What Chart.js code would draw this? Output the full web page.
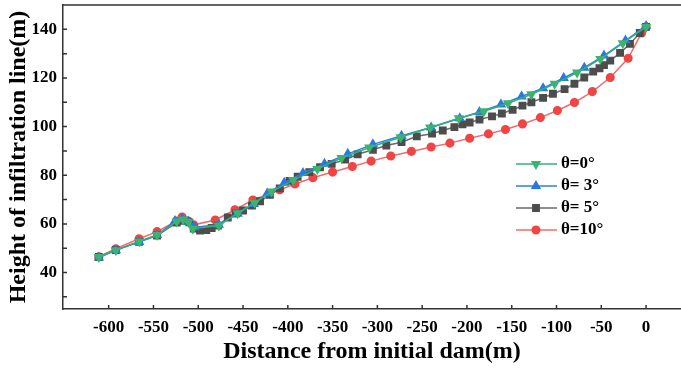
<!DOCTYPE html>
<html>
<head>
<meta charset="utf-8">
<script src="https://cdn.jsdelivr.net/npm/chart.js@4"></script>
<style>
  html, body { margin: 0; padding: 0; background: #fff; }
</style>
</head>
<body>
<canvas id="chart" width="681" height="369"></canvas>
<script>
// θ=0°
var x0 = [-611, -592, -566, -546, -524, -517, -511, -506, -477, -456, -437, -418, -394, -367, -340, -309, -274, -241, -209, -181, -154, -128, -102, -77, -51, -26, 0];
var y0 = [46.4, 49.2, 52.8, 55.4, 61.0, 61.8, 60.8, 58.0, 59.3, 64.4, 68.7, 73.3, 78.0, 82.6, 87.1, 91.4, 95.6, 99.6, 103.4, 106.3, 109.6, 113.3, 117.6, 122.2, 127.8, 134.3, 141.0];
// θ=3°
var x3 = [-611, -592, -566, -546, -526, -518, -511, -504, -477, -456, -438, -423, -404, -383, -359, -333, -305, -273, -240, -208, -186, -162, -139, -115, -92, -69, -47, -23, 0];
var y3 = [46.2, 49.2, 52.6, 55.4, 61.2, 62.2, 60.9, 58.6, 59.6, 64.2, 68.2, 72.5, 76.9, 80.9, 84.7, 88.8, 92.7, 96.2, 99.6, 103.4, 106.0, 109.1, 112.4, 115.8, 120.0, 124.2, 129.2, 135.4, 141.4];
// θ=5°
var x5 = [-611, -592, -566, -546, -524, -516, -510, -505, -498, -491, -485, -478, -467, -458, -450, -440, -431, -420, -409, -398, -389, -376, -364, -351, -336, -322, -305, -290, -273, -256, -239, -227, -214, -205, -197, -186, -172, -161, -149, -138, -128, -115, -104, -91, -80, -69, -59, -52, -47, -40, -29, -18, -7, 0];
var y5 = [46.4, 49.2, 52.6, 55.2, 60.5, 61.3, 60.6, 58.1, 57.3, 57.5, 58.3, 59.3, 62.6, 64.2, 65.5, 67.5, 69.3, 71.9, 74.6, 77.7, 79.4, 81.3, 83.3, 84.7, 86.4, 88.6, 90.5, 92.2, 93.6, 96.0, 97.1, 98.4, 99.8, 100.9, 101.7, 102.9, 104.2, 105.4, 106.9, 108.6, 110.0, 111.8, 113.5, 115.4, 117.6, 120.2, 122.6, 124.0, 125.3, 127.1, 130.3, 134.0, 138.5, 141.0];
// θ=10°
var x10 = [-611, -592, -566, -546, -524, -518, -511, -505, -481, -459, -439, -409, -392, -372, -350, -328, -307, -285, -262, -240, -219, -197, -176, -157, -138, -118, -99, -80, -60, -40, -20, -5, 0];
var y10 = [46.5, 49.8, 53.9, 56.8, 61.2, 62.8, 61.2, 59.6, 61.6, 65.8, 69.8, 74.0, 76.4, 79.0, 81.3, 83.6, 85.8, 87.9, 89.8, 91.6, 93.2, 95.2, 97.0, 98.8, 101.1, 103.7, 106.6, 109.9, 114.4, 120.2, 128.1, 138.5, 141.0];

var seriesNames = ['θ=0°', 'θ= 3°', 'θ= 5°', 'θ=10°'];
var xTicks = [-600, -550, -500, -450, -400, -350, -300, -250, -200, -150, -100, -50, 0];
var yTicks = [30, 40, 50, 60, 70, 80, 90, 100, 110, 120, 130, 140];
var yLabels = [40, 60, 80, 100, 120, 140];

var serif = "'Liberation Serif', 'Times New Roman', serif";

function pts(xs, ys) {
    return xs.map(function(x, i) { return {x: x, y: ys[i]}; });
}

// inward tick marks, top frame line and the legend
var framePlugin = {
    id: 'frame',
    afterDatasetsDraw: function(chart) {
        var ctx = chart.ctx, a = chart.chartArea;
        var xs = chart.scales.x, ys = chart.scales.y;
        ctx.save();
        ctx.strokeStyle = '#333';
        ctx.lineWidth = 1.5;
        ctx.beginPath();
        ctx.moveTo(a.left, a.top);
        ctx.lineTo(a.right, a.top);
        xTicks.forEach(function(v) {
            var p = xs.getPixelForValue(v);
            ctx.moveTo(p, a.bottom);
            ctx.lineTo(p, a.bottom - 4);
        });
        yTicks.forEach(function(v) {
            var p = ys.getPixelForValue(v);
            ctx.moveTo(a.left, p);
            ctx.lineTo(a.left + 4, p);
        });
        ctx.stroke();

        // legend
        var lx = 516, ly = 164, gap = 22;
        chart.data.datasets.forEach(function(ds, i) {
            var y = ly + i * gap;
            ctx.strokeStyle = ds.borderColor;
            ctx.lineWidth = 1.5;
            ctx.beginPath();
            ctx.moveTo(lx, y);
            ctx.lineTo(lx + 41, y);
            ctx.stroke();
            ctx.fillStyle = ds.pointBackgroundColor;
            ctx.strokeStyle = ds.pointBorderColor;
            Chart.helpers.drawPoint(ctx, {
                pointStyle: ds.pointStyle,
                rotation: ds.pointRotation || 0,
                radius: ds.pointRadius,
                borderWidth: 1
            }, lx + 20, y);
            ctx.fillStyle = '#000';
            ctx.font = 'bold 17px ' + serif;
            ctx.textBaseline = 'middle';
            ctx.fillText(seriesNames[i], lx + 45, y);
        });
        ctx.restore();
    }
};

var chart = new Chart(document.getElementById('chart'), {
    type: 'line',
    data: {
        datasets: [{
            label: seriesNames[0],
            data: pts(x0, y0),
            borderColor: '#33b07a',
            pointBackgroundColor: '#3cb371',
            pointBorderColor: '#3cb371',
            pointStyle: 'triangle',
            pointRotation: 180,
            pointRadius: 4.5,
            borderWidth: 1.5
        }, {
            label: seriesNames[1],
            data: pts(x3, y3),
            borderColor: '#2f7fe0',
            pointBackgroundColor: '#2a78e0',
            pointBorderColor: '#2a78e0',
            pointStyle: 'triangle',
            pointRadius: 4.5,
            borderWidth: 1.5
        }, {
            label: seriesNames[2],
            data: pts(x5, y5),
            borderColor: '#6a6a6a',
            pointBackgroundColor: '#4d4d4d',
            pointBorderColor: '#4d4d4d',
            pointStyle: 'rect',
            pointRadius: 4.5,
            borderWidth: 1.5
        }, {
            label: seriesNames[3],
            data: pts(x10, y10),
            borderColor: '#f46a6a',
            pointBackgroundColor: '#f04545',
            pointBorderColor: '#f04545',
            pointStyle: 'circle',
            pointRadius: 3.8,
            borderWidth: 1.5
        }]
    },
    options: {
        responsive: false,
        animation: false,
        devicePixelRatio: 1,
        layout: { autoPadding: false, padding: { top: 5, right: 0, left: 0, bottom: 0 } },
        plugins: {
            legend: { display: false },
            tooltip: { enabled: false }
        },
        scales: {
            x: {
                type: 'linear',
                min: -651,
                max: 39,
                afterBuildTicks: function(scale) {
                    scale.ticks = xTicks.map(function(v) { return {value: v}; });
                },
                afterFit: function(scale) {
                    scale.height = 60;
                    scale.paddingLeft = 0;
                    scale.paddingRight = 0;
                },
                grid: { display: false, drawTicks: false },
                border: { display: true, color: '#333', width: 1.5 },
                ticks: {
                    autoSkip: false,
                    maxRotation: 0,
                    padding: 8,
                    color: '#000',
                    font: { family: serif, size: 17, weight: 'bold' }
                },
                title: {
                    display: true,
                    text: 'Distance from initial dam(m)',
                    color: '#000',
                    padding: { top: 0, bottom: 3 },
                    font: { family: serif, size: 24, weight: 'bold' }
                }
            },
            y: {
                type: 'linear',
                min: 25,
                max: 150,
                afterBuildTicks: function(scale) {
                    scale.ticks = yTicks.map(function(v) { return {value: v}; });
                },
                afterFit: function(scale) {
                    scale.width = 63;
                    scale.paddingTop = 0;
                    scale.paddingBottom = 0;
                },
                grid: { display: false, drawTicks: false },
                border: { display: true, color: '#333', width: 1.5 },
                ticks: {
                    autoSkip: false,
                    padding: 6,
                    color: '#000',
                    font: { family: serif, size: 17, weight: 'bold' },
                    callback: function(v) { return yLabels.indexOf(v) >= 0 ? v : ''; }
                },
                title: {
                    display: true,
                    text: 'Height of infiltration line(m)',
                    color: '#000',
                    padding: { top: 4, bottom: 0 },
                    font: { family: serif, size: 24, weight: 'bold' }
                }
            }
        }
    },
    plugins: [framePlugin]
});
</script>
</body>
</html>
